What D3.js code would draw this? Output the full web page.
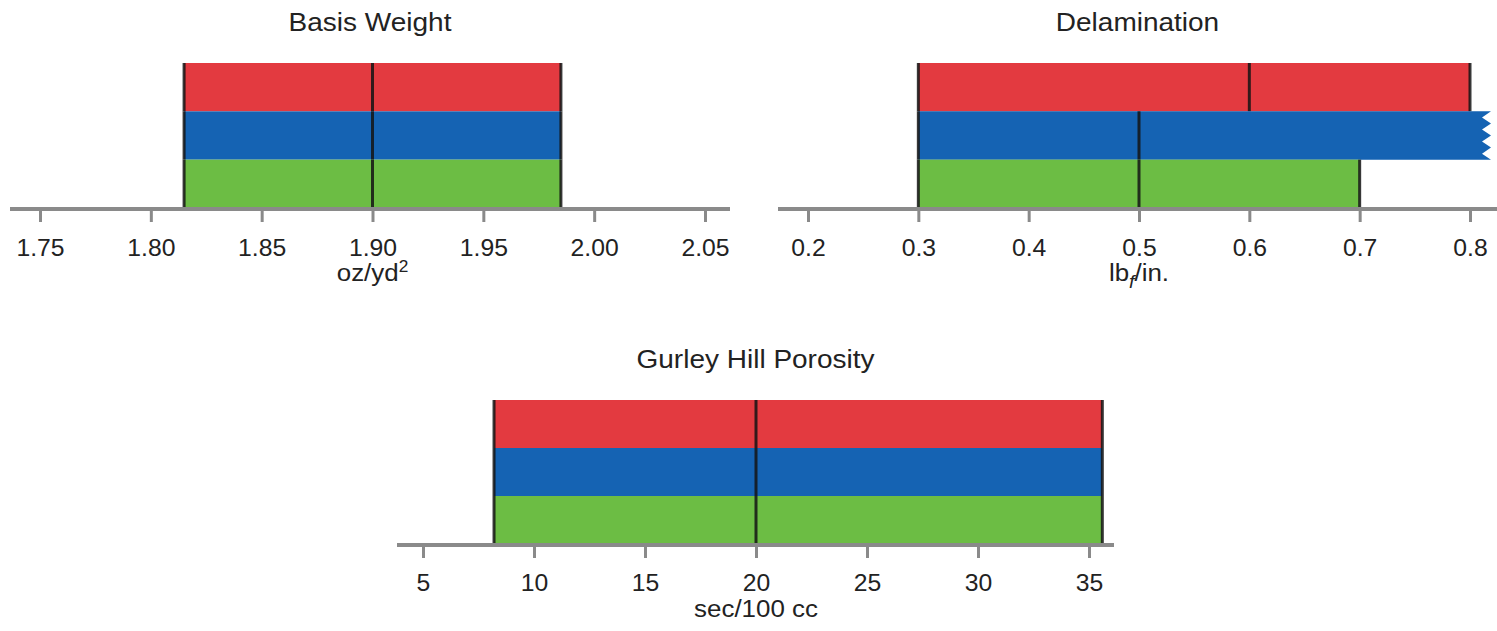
<!DOCTYPE html>
<html>
<head>
<meta charset="utf-8">
<script src="https://cdn.jsdelivr.net/npm/d3@7/dist/d3.min.js"></script>
<style>
  html, body { margin: 0; padding: 0; background: #ffffff; }
  svg { display: block; }
  text { font-family: "Liberation Sans", Arial, sans-serif; fill: #222222; }
</style>
</head>
<body>
<svg id="chart" width="1497" height="631"></svg>
<script>
// ---------------- DATA ----------------
const seriesNames = ["Series 1", "Series 2", "Series 3"];
const seriesColors = ["#e33a40", "#1563b3", "#6cbd44"];

const panelTitles = ["Basis Weight", "Delamination", "Gurley Hill Porosity"];

// Basis Weight (oz/yd²)
const basisTicks = [1.75, 1.80, 1.85, 1.90, 1.95, 2.00, 2.05];
const basisMin = [1.815, 1.815, 1.815];
const basisMed = [1.90, 1.90, 1.90];
const basisMax = [1.985, 1.985, 1.985];

// Delamination (lbf/in.) — null max = continues beyond the axis
const delamTicks = [0.2, 0.3, 0.4, 0.5, 0.6, 0.7, 0.8];
const delamMin = [0.3, 0.3, 0.3];
const delamMed = [0.6, 0.5, 0.5];
const delamMax = [0.8, null, 0.7];

// Gurley Hill Porosity (sec/100 cc)
const gurleyTicks = [5, 10, 15, 20, 25, 30, 35];
const gurleyMin = [8.2, 8.2, 8.2];
const gurleyMed = [20, 20, 20];
const gurleyMax = [35.6, 35.6, 35.6];

// ---------------- LAYOUT ----------------
const panels = [
  { title: panelTitles[0], ticks: basisTicks, mins: basisMin, meds: basisMed, maxs: basisMax,
    fmt: d3.format(".2f"), unit: "oz/yd²",
    range: [40, 705], axisExt: [10, 730], top: 63, axisY: 209, titleY: 31, tickY: 256, unitY: 281 },
  { title: panelTitles[1], ticks: delamTicks, mins: delamMin, meds: delamMed, maxs: delamMax,
    fmt: d3.format(".1f"), unit: "lbf/in.",
    range: [808, 1470], axisExt: [778, 1497], top: 63, axisY: 209, titleY: 31, tickY: 256, unitY: 281 },
  { title: panelTitles[2], ticks: gurleyTicks, mins: gurleyMin, meds: gurleyMed, maxs: gurleyMax,
    fmt: d3.format("d"), unit: "sec/100 cc",
    range: [423, 1089], axisExt: [397, 1114], top: 400, axisY: 545, titleY: 368, tickY: 591, unitY: 617 }
];

const svg = d3.select("#chart");
const axisColor = "#8a8a8a";
const lineColor = "#141414";

function stretchedText(parent, cx, cy, size, sx) {
  return parent.append("g")
    .attr("transform", `translate(${cx},${cy}) scale(${sx},1)`)
    .append("text")
    .attr("x", 0).attr("y", 0)
    .attr("text-anchor", "middle")
    .attr("font-size", size);
}

panels.forEach((p, pi) => {
  const x = d3.scaleLinear()
    .domain([p.ticks[0], p.ticks[p.ticks.length - 1]])
    .range(p.range);

  const y = d3.scaleBand()
    .domain(seriesNames)
    .range([p.top, p.axisY - 1])
    .padding(0);

  const g = svg.append("g");

  // bands
  seriesNames.forEach((s, i) => {
    const y0 = y(s), y1 = y(s) + y.bandwidth();
    const x0 = x(p.mins[i]);
    if (p.maxs[i] === null) {
      // open-ended: runs past the axis with a zigzag edge
      const xe = x.range()[1] + 12;
      const amp = 9, teeth = 4;
      const step = (y1 - y0) / teeth;
      let path = `M${x0},${y0} L${xe + amp},${y0}`;
      for (let k = 0; k < teeth; k++) {
        path += ` L${xe},${y0 + step * (k + 0.5)} L${xe + amp},${y0 + step * (k + 1)}`;
      }
      path += ` L${x0},${y1} Z`;
      g.append("path").attr("d", path).attr("fill", seriesColors[i]);
    } else {
      g.append("rect")
        .attr("x", x0)
        .attr("y", y0)
        .attr("width", x(p.maxs[i]) - x0)
        .attr("height", y1 - y0)
        .attr("fill", seriesColors[i]);
    }
    // min / median / max marker lines
    [p.mins[i], p.meds[i], p.maxs[i]].forEach(v => {
      if (v === null) return;
      g.append("line")
        .attr("x1", x(v)).attr("x2", x(v))
        .attr("y1", y0).attr("y2", y1)
        .attr("stroke", lineColor)
        .attr("stroke-opacity", 0.85)
        .attr("stroke-width", 3);
    });
  });

  // axis
  const axis = d3.axisBottom(x)
    .tickValues(p.ticks)
    .tickFormat(p.fmt)
    .tickSize(13)
    .tickPadding(0);
  const ag = g.append("g")
    .attr("transform", `translate(0,${p.axisY})`)
    .call(axis);
  ag.select(".domain").remove();
  ag.selectAll(".tick line")
    .attr("stroke", axisColor)
    .attr("stroke-width", 3);
  ag.selectAll(".tick text")
    .attr("y", p.tickY - p.axisY)
    .attr("dy", null)
    .attr("font-size", 24)
    .attr("transform", "scale(1.03,1)")
    .attr("fill", "#222222")
    .attr("font-family", "'Liberation Sans', Arial, sans-serif");
  g.append("line")
    .attr("x1", p.axisExt[0]).attr("x2", p.axisExt[1])
    .attr("y1", p.axisY).attr("y2", p.axisY)
    .attr("stroke", axisColor)
    .attr("stroke-width", 4);

  const cx = (p.axisExt[0] + p.axisExt[1]) / 2;

  // title
  stretchedText(g, cx, p.titleY, 25, 1.12).text(p.title);

  // unit label
  const ut = stretchedText(g, x(p.ticks[3]), p.unitY, 24, 1.08);
  if (pi === 0) {
    ut.append("tspan").text("oz/yd");
    ut.append("tspan").attr("font-size", 16).attr("dy", -9).text("2");
  } else if (pi === 1) {
    ut.append("tspan").text("lb");
    ut.append("tspan").attr("font-size", 18).attr("dy", 7).attr("font-style", "italic").text("f");
    ut.append("tspan").attr("dy", -7).text("/in.");
  } else {
    ut.text(p.unit);
  }
});
</script>
</body>
</html>
